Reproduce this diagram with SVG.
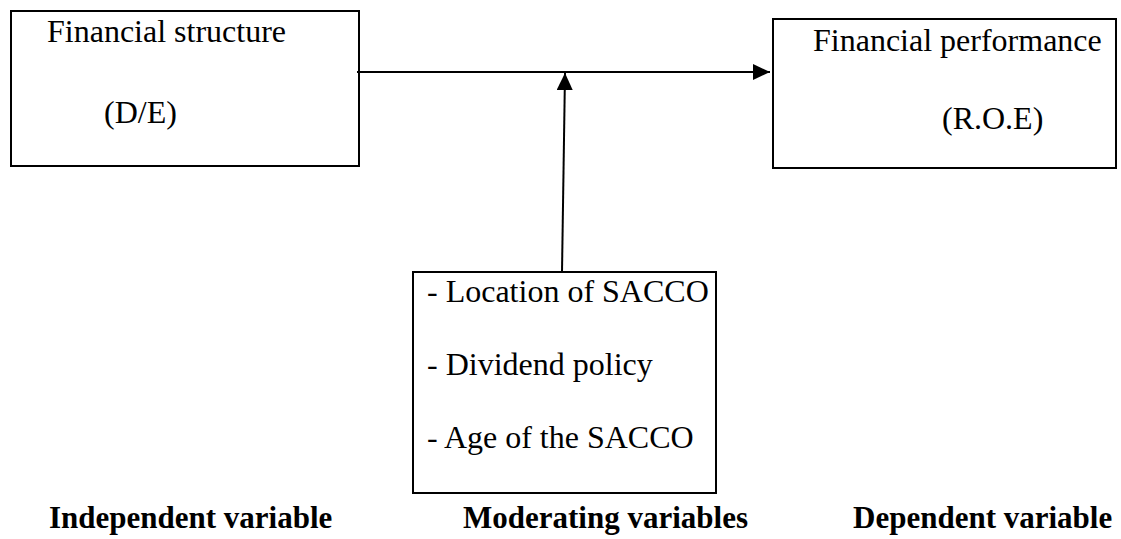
<svg xmlns="http://www.w3.org/2000/svg" width="1121" height="539" viewBox="0 0 1121 539">
<style>
.box{fill:#fff;stroke:#000;stroke-width:2}
text{font-family:'Liberation Serif','Times New Roman','DejaVu Serif',serif;fill:#000}
.t{font-size:32px}
.b{font-size:31px;font-weight:bold}
.ln{stroke:#000;stroke-width:2;fill:none}
</style>
<defs>
<marker id="ah2" markerWidth="18" markerHeight="16" refX="17" refY="8" orient="auto" markerUnits="userSpaceOnUse">
<path d="M0,0 L17,8 L0,16 Z" fill="#000"/>
</marker>
</defs>
<g id="independent">
<rect class="box" x="11" y="11" width="348" height="155"/>
<text class="t" x="47" y="42" font-family="Liberation Serif, serif">Financial structure</text>
<text class="t" x="104" y="123" font-family="Liberation Serif, serif">(D/E)</text>
</g>
<g id="dependent">
<rect class="box" x="773" y="19" width="343" height="149"/>
<text class="t" x="813" y="51" font-family="Liberation Serif, serif">Financial performance</text>
<text class="t" x="942" y="129" font-family="Liberation Serif, serif">(R.O.E)</text>
</g>
<g id="moderating">
<rect class="box" x="413" y="272" width="303" height="221"/>
<text class="t" x="427" y="302" font-family="Liberation Serif, serif">- Location of SACCO</text>
<text class="t" x="427" y="375" font-family="Liberation Serif, serif">- Dividend policy</text>
<text class="t" x="427" y="448" font-family="Liberation Serif, serif">- Age of the SACCO</text>
</g>
<g id="connectors">
<line class="ln" x1="357" y1="72" x2="770" y2="72" marker-end="url(#ah2)"/>
<line class="ln" x1="562" y1="272" x2="565" y2="73" marker-end="url(#ah2)"/>
</g>
<g id="labels">
<text class="b" x="49" y="528" font-family="Liberation Serif, serif">Independent variable</text>
<text class="b" x="463" y="528" font-family="Liberation Serif, serif">Moderating variables</text>
<text class="b" x="853" y="528" font-family="Liberation Serif, serif">Dependent variable</text>
</g>
</svg>
